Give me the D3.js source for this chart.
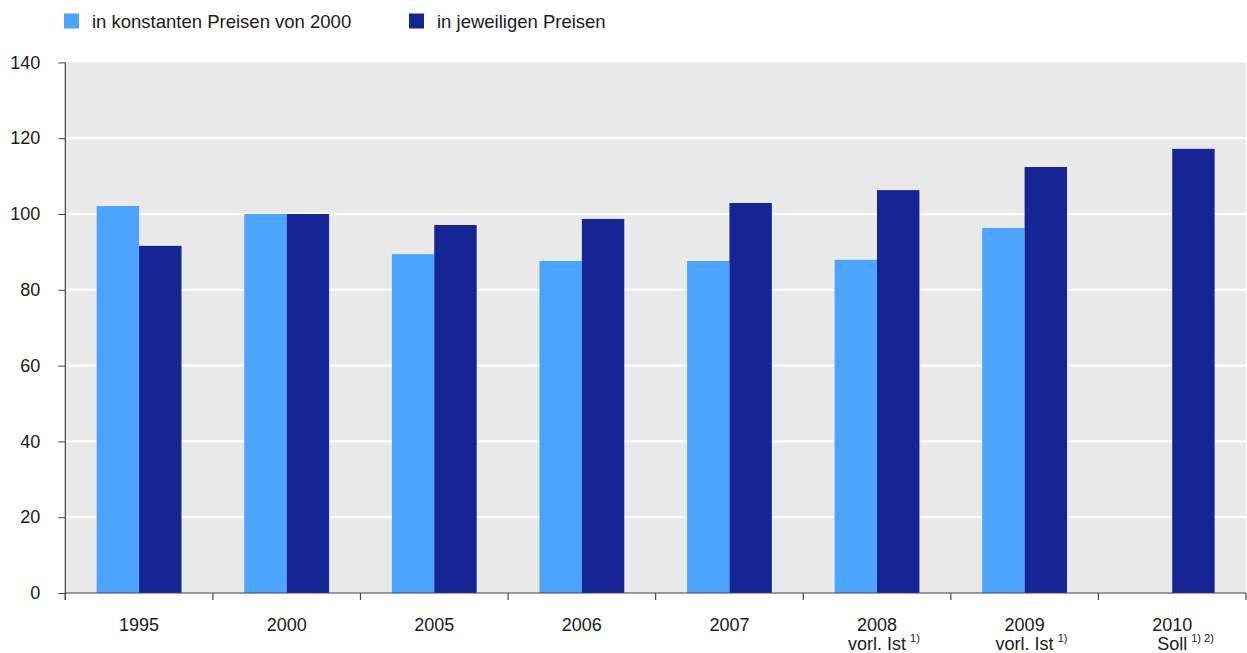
<!DOCTYPE html>
<html><head><meta charset="utf-8">
<script src="https://cdn.jsdelivr.net/npm/d3@7"></script>
<style>
html,body{margin:0;padding:0;background:#fff;}
text{font-family:Arial,"Liberation Sans",sans-serif;fill:#1a1a1a;}
</style></head>
<body>
<svg id="c" width="1247" height="653"></svg>
<script>
const categories = ["1995","2000","2005","2006","2007","2008","2009","2010"];
const subLabels = ["","","","","","vorl. Ist","vorl. Ist","Soll"];
const subNotes = ["","","","","","1)","1)","1) 2)"];
const seriesNames = ["in konstanten Preisen von 2000","in jeweiligen Preisen"];
const konstant = [102.1, 100, 89.4, 87.6, 87.6, 87.9, 96.3, null];
const jeweilig = [91.6, 100, 97.1, 98.7, 102.9, 106.3, 112.4, 117.2];
const yTicks = [0,20,40,60,80,100,120,140];
const colors = ["#4ba5ff","#152596"];

const svg = d3.select("#c");
const L = 65.3, R = 1246, T = 62.4, B = 593;

const x = d3.scaleBand().domain(categories).range([L, R]).padding(0);
const xs = d3.scaleBand().domain([0,1]).range([0, x.bandwidth()]).paddingInner(0).paddingOuter(0.74);
const y = d3.scaleLinear().domain([0,140]).range([B, T]);

// background
svg.append("rect").attr("x", L).attr("y", y(140)).attr("width", R - L).attr("height", y(0) - y(140)).attr("fill", "#e9e9e9");

// gridlines
svg.append("g").selectAll("line").data(yTicks.filter(d => d > 0 && d < 140)).join("line")
  .attr("x1", L).attr("x2", R).attr("y1", d => y(d)).attr("y2", d => y(d))
  .attr("stroke", "#fff").attr("stroke-width", 2.3);

// bars
const data = [konstant, jeweilig];
data.forEach((vals, si) => {
  svg.append("g").selectAll("rect").data(categories.map((c, i) => ({c, v: vals[i]})).filter(d => d.v != null)).join("rect")
    .attr("x", d => x(d.c) + xs(si))
    .attr("width", xs.bandwidth())
    .attr("y", d => y(d.v))
    .attr("height", d => y(0) - y(d.v))
    .attr("fill", colors[si]);
});

// y axis
const yAxis = d3.axisLeft(y).tickValues(yTicks).tickSize(7).tickPadding(18).tickFormat(d3.format("d"));
const gy = svg.append("g").attr("transform", `translate(${L},0)`).call(yAxis);
gy.select(".domain").remove();
gy.selectAll(".tick line").attr("stroke", "#444");
gy.selectAll(".tick text").attr("font-size", 18).attr("fill", "#1a1a1a");
svg.append("line").attr("x1", L).attr("x2", L).attr("y1", y(140)).attr("y2", B + 7).attr("stroke", "#444").attr("stroke-width", 1.2);

// x axis
svg.append("line").attr("x1", L).attr("x2", R).attr("y1", B).attr("y2", B).attr("stroke", "#444").attr("stroke-width", 1.2);
const bounds = categories.map(c => x(c)).concat([R]);
svg.append("g").selectAll("line").data(bounds).join("line")
  .attr("x1", d => d).attr("x2", d => d).attr("y1", B).attr("y2", B + 7)
  .attr("stroke", "#444").attr("stroke-width", 1.2);

const lab = svg.append("g");
categories.forEach((c, i) => {
  const cx = x(c) + x.bandwidth() / 2;
  lab.append("text").attr("x", cx).attr("y", 631).attr("text-anchor", "middle").attr("font-size", 18).text(c);
  if (subLabels[i]) {
    const t = lab.append("text").attr("x", cx).attr("y", 650).attr("text-anchor", "middle").attr("font-size", 18).text(subLabels[i]);
    const w = t.node().getComputedTextLength();
    lab.append("text").attr("x", cx + w / 2 + 4).attr("y", 642).attr("font-size", 11).text(subNotes[i]);
  }
});

// legend
const legX = [64, 409];
seriesNames.forEach((s, i) => {
  svg.append("rect").attr("x", legX[i]).attr("y", 13.5).attr("width", 15).attr("height", 15).attr("fill", colors[i]);
  svg.append("text").attr("x", legX[i] + 28).attr("y", 28).attr("font-size", 18.5).text(s);
});
</script>
</body></html>
